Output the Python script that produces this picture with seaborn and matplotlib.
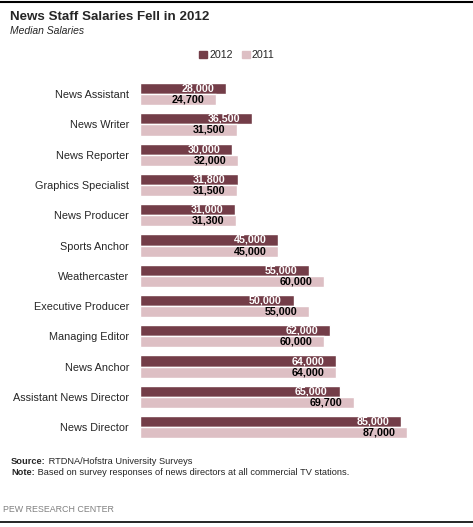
import pandas as pd
import seaborn as sns
import matplotlib.pyplot as plt
from matplotlib.lines import Line2D

# Median salaries by position
positions = ["News Assistant", "News Writer", "News Reporter", "Graphics Specialist",
             "News Producer", "Sports Anchor", "Weathercaster", "Executive Producer",
             "Managing Editor", "News Anchor", "Assistant News Director", "News Director"]
salary_2012 = [28000, 36500, 30000, 31800, 31000, 45000, 55000, 50000, 62000, 64000, 65000, 85000]
salary_2011 = [24700, 31500, 32000, 31500, 31300, 45000, 60000, 55000, 60000, 64000, 69700, 87000]
years = ["2012", "2011"]
colors = ["#733D48", "#DDBFC4"]

df = pd.DataFrame({
    "position": positions * 2,
    "salary": salary_2012 + salary_2011,
    "year": ["2012"] * len(positions) + ["2011"] * len(positions),
})

sns.set_style("white")
plt.rcParams["font.family"] = ["Liberation Sans", "DejaVu Sans"]

W, H = 473, 527
fig = plt.figure(figsize=(W / 100, H / 100), dpi=100)
ax = fig.add_axes([140 / W, 1 - 442.3 / H, 307 / W, 363.3 / H])

sns.barplot(data=df, y="position", x="salary", hue="year", hue_order=years,
            palette=colors, orient="h", width=0.737, saturation=1,
            order=positions, ax=ax, legend=False)

ax.set_xlim(0, 100000)
ax.set_ylim(len(positions) - 0.5, -0.5)
ax.set_xlabel("")
ax.set_ylabel("")
ax.set_xticks([])
ax.tick_params(axis="y", length=0, pad=8, labelsize=7.8)
for s in ax.spines.values():
    s.set_visible(False)

# value labels inside the bar ends
for cont, tc in zip(ax.containers, ["white", "black"]):
    ax.bar_label(cont, labels=[f"{int(v.get_width()):,}" for v in cont],
                 padding=-8.5, color=tc, fontsize=7.7, fontweight="bold")
for t in ax.texts:
    t.set_ha("right")

# legend
handles = [plt.Rectangle((0, 0), 1, 1, color=c) for c in colors]
fig.legend(handles, years, loc="center", bbox_to_anchor=(237 / W, 1 - 55 / H),
           ncol=2, frameon=False, fontsize=7.7, handlelength=0.7, handleheight=0.7,
           handletextpad=0.2, columnspacing=0.9)

# titles
fig.text(10 / W, 1 - 20 / H, "News Staff Salaries Fell in 2012", fontsize=9.6,
         fontweight="bold", va="baseline")
fig.text(10 / W, 1 - 34 / H, "Median Salaries", fontsize=7.5, style="italic", va="baseline")

# source / note
renderer = fig.canvas.get_renderer()
for y, bold, rest in [(464, "Source:", " RTDNA/Hofstra University Surveys"),
                      (475, "Note:", " Based on survey responses of news directors at all commercial TV stations.")]:
    b = fig.text(11 / W, 1 - y / H, bold, fontsize=6.7, fontweight="bold", va="baseline")
    bw = b.get_window_extent(renderer).width
    fig.text((11 + bw) / W, 1 - y / H, rest, fontsize=6.7, va="baseline")

fig.text(3 / W, 1 - 512 / H, "PEW RESEARCH CENTER", fontsize=6.4, color="#808080", va="baseline")

# rules top and bottom
fig.add_artist(Line2D([0, 1], [1 - 2 / H, 1 - 2 / H], color="black", lw=1.5))
fig.add_artist(Line2D([0, 1], [1 - 522 / H, 1 - 522 / H], color="black", lw=1.2))

fig.savefig("out.png", dpi=100)
